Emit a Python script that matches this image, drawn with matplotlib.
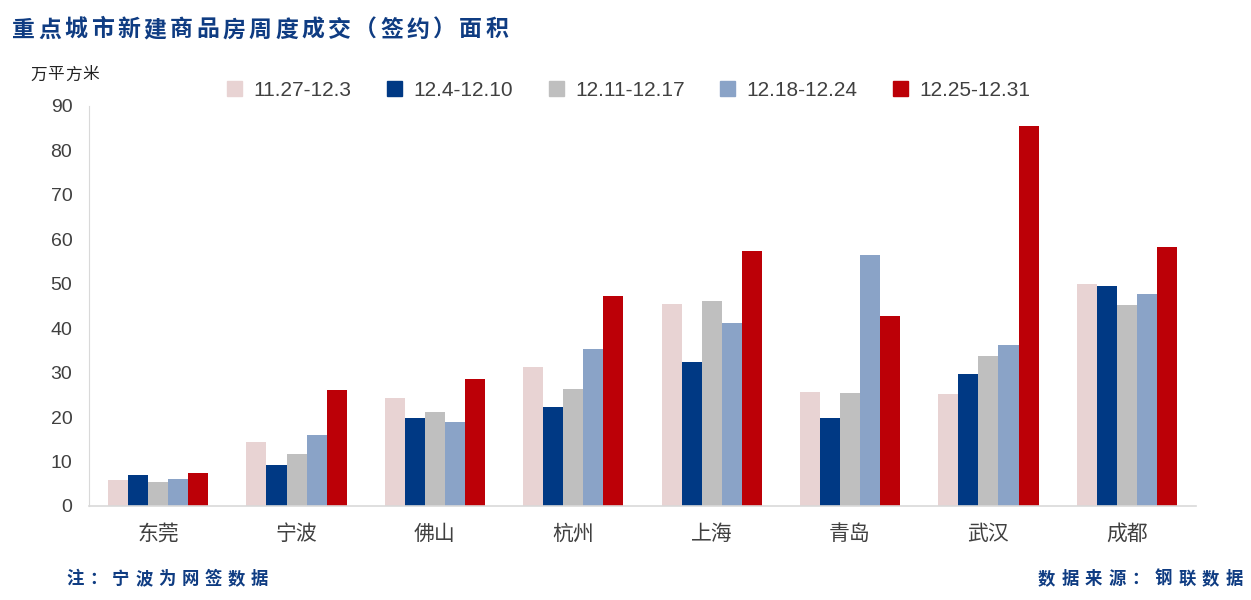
import matplotlib
matplotlib.use("Agg")
import matplotlib.pyplot as plt
import numpy as np
from matplotlib.patches import Rectangle

plt.rcParams['font.family'] = ['Noto Sans CJK SC', 'DejaVu Sans']

cities = ["东莞", "宁波", "佛山", "杭州", "上海", "青岛", "武汉", "成都"]
weeks = ["11.27-12.3", "12.4-12.10", "12.11-12.17", "12.18-12.24", "12.25-12.31"]
w1 = [5.9, 14.4, 24.3, 31.3, 45.5, 25.7, 25.2, 50.0]
w2 = [7.0, 9.2, 19.8, 22.3, 32.4, 19.8, 29.7, 49.5]
w3 = [5.4, 11.7, 21.2, 26.3, 46.1, 25.4, 33.8, 45.2]
w4 = [6.1, 16.0, 18.9, 35.3, 41.2, 56.5, 36.2, 47.7]
w5 = [7.4, 26.1, 28.6, 47.3, 57.4, 42.8, 85.5, 58.3]
series = [w1, w2, w3, w4, w5]
colors = ["#E8D3D3", "#003984", "#BFBFBF", "#8AA3C7", "#BC0007"]
yticks = [0, 10, 20, 30, 40, 50, 60, 70, 80, 90]

title = "重点城市新建商品房周度成交（签约）面积"
note = "注：宁波为网签数据"
source = "数据来源：钢联数据"
unit = "万平方米"

W, H = 1251, 600
fig = plt.figure(figsize=(W / 100, H / 100), dpi=100)
ax = fig.add_axes([89 / W, 1 - 506 / H, (1196 - 89) / W, (506 - 106) / H])

x = np.arange(len(cities))
bw = 0.145
for i, (vals, c) in enumerate(zip(series, colors)):
    ax.bar(x + (i - 2) * bw, vals, width=bw, color=c, label=weeks[i], zorder=2)

ax.set_xlim(-0.5, len(cities) - 0.5)
ax.set_ylim(0, 90)
ax.set_yticks(yticks)
ax.set_yticklabels([str(t) for t in yticks], fontsize=14, color="#404040",
                   family=['Liberation Sans', 'DejaVu Sans'])
ax.set_xticks(x)
ax.set_xticklabels(cities, fontsize=15, color="#404040")
ax.tick_params(axis='both', length=0)
ax.tick_params(axis='y', pad=12)
ax.tick_params(axis='x', pad=12)
for s in ['top', 'right']:
    ax.spines[s].set_visible(False)
ax.spines['left'].set_color('#D9D9D9')
ax.spines['bottom'].set_color('#D9D9D9')
ax.spines['bottom'].set_linewidth(1.2)

# legend
handles = [Rectangle((0, 0), 1, 1, color=c) for c in colors]
leg = fig.legend(handles, weeks, loc='center', bbox_to_anchor=(629 / W, 1 - 90 / H),
                 ncol=5, frameon=False, handlelength=0.72, handleheight=0.72,
                 handletextpad=0.55, columnspacing=1.7,
                 prop={'family': ['Liberation Sans', 'DejaVu Sans'], 'size': 15})
for t in leg.get_texts():
    t.set_color('#404040')

navy = "#0F3C82"


def spaced(text, x0, y, step, **kw):
    for k, ch in enumerate(text):
        fig.text((x0 + k * step) / W, 1 - y / H, ch, va='center', ha='left', **kw)


spaced(title, 12, 30, 26.3, fontsize=16.5, fontweight='bold', color=navy)
spaced(unit, 30, 75, 17.5, fontsize=12, color="#222222")
spaced(note, 66, 579, 23.1, fontsize=12.5, fontweight='bold', color=navy)
spaced(source, 1038, 579, 23.4, fontsize=12.5, fontweight='bold', color=navy)

fig.savefig("out.png", dpi=100, facecolor='white')
